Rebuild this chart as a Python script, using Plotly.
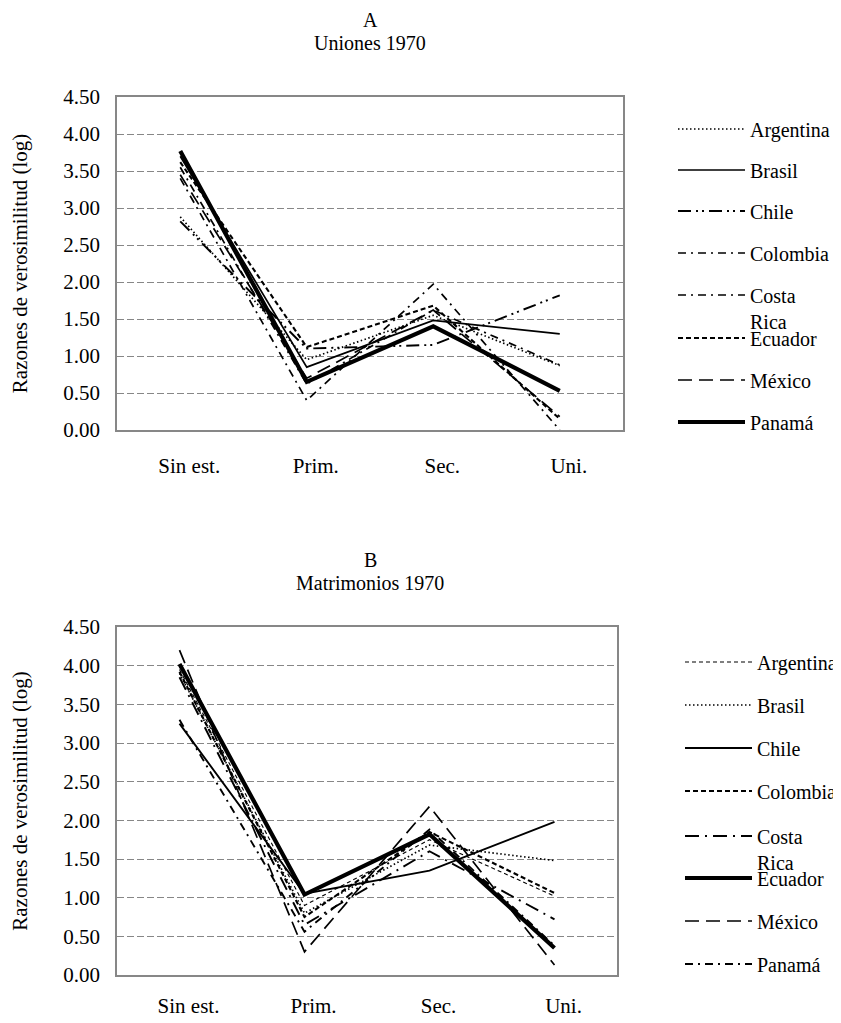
import plotly.graph_objects as go

# Page body has an 8px margin, so the figure is offset by 8px; size it to fit.
OX, OY = 8, 8
W, H = 833, 1015

categories = ["Sin est.", "Prim.", "Sec.", "Uni."]
countries = ["Argentina", "Brasil", "Chile", "Colombia", "Costa Rica", "Ecuador", "México", "Panamá"]

# Panel A: Uniones 1970
uniones_argentina = [2.88, 0.95, 1.55, 0.87]
uniones_brasil = [3.70, 0.85, 1.48, 1.30]
uniones_chile = [2.82, 1.10, 1.15, 1.82]
uniones_colombia = [3.55, 0.62, 1.62, 0.88]
uniones_costa_rica = [3.40, 0.40, 1.97, 0.00]
uniones_ecuador = [3.62, 1.12, 1.68, 0.15]
uniones_mexico = [3.45, 0.70, 1.62, 0.18]
uniones_panama = [3.77, 0.65, 1.40, 0.53]

# Panel B: Matrimonios 1970
matrim_argentina = [3.95, 0.90, 1.75, 1.02]
matrim_brasil = [3.90, 0.80, 1.68, 1.48]
matrim_chile = [3.25, 1.05, 1.35, 1.98]
matrim_colombia = [3.92, 0.75, 1.85, 1.06]
matrim_costa_rica = [3.85, 0.65, 1.60, 0.72]
matrim_ecuador = [4.02, 1.04, 1.82, 0.35]
matrim_mexico = [4.20, 0.30, 2.18, 0.13]
matrim_panama = [3.30, 0.56, 1.88, 0.38]

uniones = [uniones_argentina, uniones_brasil, uniones_chile, uniones_colombia,
           uniones_costa_rica, uniones_ecuador, uniones_mexico, uniones_panama]
matrim = [matrim_argentina, matrim_brasil, matrim_chile, matrim_colombia,
          matrim_costa_rica, matrim_ecuador, matrim_mexico, matrim_panama]

y_ticks = [0, 0.5, 1, 1.5, 2, 2.5, 3, 3.5, 4, 4.5]

# line styles (width, dash)
styles_a = [
    (1.7, "1.5px,2.5px"),
    (1.7, "solid"),
    (1.9, "13px,5px,2px,4px,2px,5px"),
    (1.7, "8px,5px,2px,5px"),
    (1.7, "8px,5px,2px,5px"),
    (2.1, "5px,3px"),
    (1.7, "14px,7px"),
    (4.2, "solid"),
]
styles_b = [
    (1.1, "4px,3px"),
    (1.7, "1.5px,2.5px"),
    (1.9, "solid"),
    (2.1, "5px,3px"),
    (1.9, "14px,6px,2px,6px"),
    (4.2, "solid"),
    (1.7, "14px,7px"),
    (1.9, "8px,5px,2px,5px"),
]

FONT = "Liberation Serif, Times New Roman, serif"


def px_x(x):
    return (x - OX) / W


def px_y(y):
    return 1 - (y - OY) / H


fig = go.Figure()

legend_layouts = {}
leg_idx = 1

panels = [
    dict(data=uniones, styles=styles_a, xaxis="x", yaxis="y",
         leg_y=[131, 172, 213, 255, 297, 340, 382, 424], leg_x=673),
    dict(data=matrim, styles=styles_b, xaxis="x2", yaxis="y2",
         leg_y=[664, 707, 750, 793, 838, 880, 923, 966], leg_x=680),
]

for p in panels:
    for i, name in enumerate(countries):
        w, dash = p["styles"][i]
        lname = "legend" if leg_idx == 1 else f"legend{leg_idx}"
        text = "Costa<br>Rica" if name == "Costa Rica" else name
        fig.add_trace(go.Scatter(
            x=categories, y=p["data"][i], name=text, mode="lines",
            line=dict(color="black", width=w, dash=dash),
            xaxis=p["xaxis"], yaxis=p["yaxis"], legend=lname,
            showlegend=True,
        ))
        ycen = p["leg_y"][i] - 2
        if name == "Costa Rica":
            ycen += 13
        legend_layouts[lname] = dict(
            x=px_x(p["leg_x"]), xanchor="left",
            y=px_y(ycen), yanchor="middle",
            bgcolor="rgba(0,0,0,0)", borderwidth=0,
            font=dict(family=FONT, size=20, color="black"),
            itemwidth=67, valign="top", tracegroupgap=0,
        )
        leg_idx += 1

axis_common = dict(
    showline=True, mirror=True, linecolor="#878787", linewidth=1.5,
    ticks="", zeroline=False, automargin=False,
    tickfont=dict(family=FONT, size=21, color="black"),
)

xdomA = [px_x(117), px_x(623)]
xdomB = [px_x(117), px_x(617)]
ydomA = [px_y(430), px_y(97)]
ydomB = [px_y(975), px_y(627)]

ytitle = dict(text="Razones de verosimilitud (log)",
              font=dict(family=FONT, size=21, color="black"), standoff=32)

fig.update_layout(
    width=W, height=H,
    margin=dict(l=0, r=0, t=0, b=0, autoexpand=False),
    paper_bgcolor="white", plot_bgcolor="white",
    font=dict(family=FONT, size=20, color="black"),
    xaxis=dict(domain=xdomA, anchor="y", type="category", range=[-0.5, 3.5],
               showgrid=False, ticklabelshift=9, ticklabelstandoff=16, **axis_common),
    yaxis=dict(domain=ydomA, anchor="x", range=[0, 4.5], tickvals=y_ticks,
               tickformat=".2f", showgrid=True, gridcolor="#878787", gridwidth=1.2,
               griddash="7px,3px", ticklabelstandoff=11, title=ytitle,
               **axis_common),
    xaxis2=dict(domain=xdomB, anchor="y2", type="category", range=[-0.5, 3.5],
                showgrid=False, ticklabelshift=9, ticklabelstandoff=11, **axis_common),
    yaxis2=dict(domain=ydomB, anchor="x2", range=[0, 4.5], tickvals=y_ticks,
                tickformat=".2f", showgrid=True, gridcolor="#878787", gridwidth=1.2,
                griddash="7px,3px", ticklabelstandoff=11, title=ytitle,
                **axis_common),
    annotations=[
        dict(text="A", x=px_x(370), y=px_y(20), xref="paper", yref="paper",
             xanchor="center", yanchor="middle",
             showarrow=False, font=dict(family=FONT, size=20)),
        dict(text="Uniones 1970", x=px_x(370), y=px_y(43), xref="paper", yref="paper",
             xanchor="center", yanchor="middle",
             showarrow=False, font=dict(family=FONT, size=20)),
        dict(text="B", x=px_x(370), y=px_y(560), xref="paper", yref="paper",
             xanchor="center", yanchor="middle",
             showarrow=False, font=dict(family=FONT, size=20)),
        dict(text="Matrimonios 1970", x=px_x(370), y=px_y(583), xref="paper", yref="paper",
             xanchor="center", yanchor="middle",
             showarrow=False, font=dict(family=FONT, size=20)),
    ],
    **legend_layouts,
)

fig.write_html("out.html")
